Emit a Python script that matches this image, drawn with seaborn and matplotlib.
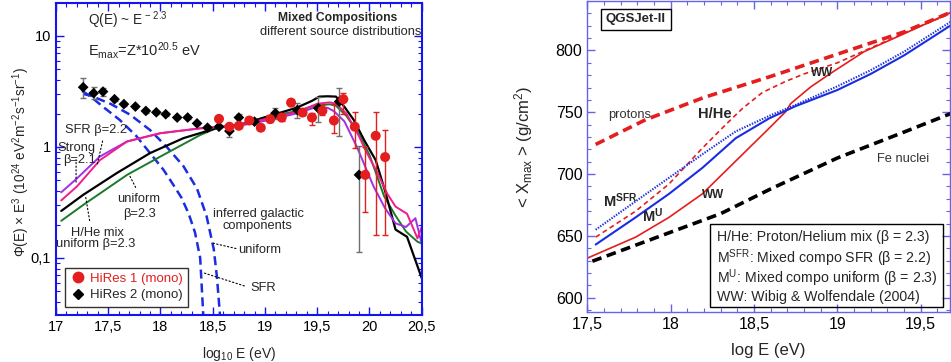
import numpy as np
import pandas as pd
import matplotlib
matplotlib.use("Agg")
import matplotlib.pyplot as plt
import seaborn as sns
from matplotlib.lines import Line2D
from matplotlib.patches import Rectangle
from matplotlib.ticker import FixedLocator, FuncFormatter, MultipleLocator

# ---------------------------------------------------------------------------
# Left panel: HiRes data
# ---------------------------------------------------------------------------
hires1_E = [18.56, 18.66, 18.75, 18.85, 18.96, 19.05, 19.16, 19.25, 19.36, 19.45,
            19.55, 19.66, 19.75, 19.86, 19.96, 20.06, 20.15]
hires1_flux = [1.79, 1.52, 1.55, 1.73, 1.49, 1.78, 1.84, 2.51, 2.04, 1.84,
               2.12, 1.73, 2.69, 1.52, 0.56, 1.26, 0.81]
hires1_hi = [1.88, 1.60, 1.63, 1.82, 1.57, 1.88, 1.95, 2.66, 2.16, 2.01,
             2.39, 2.45, 3.04, 2.05, 1.00, 2.07, 1.42]
hires1_lo = [1.70, 1.44, 1.47, 1.64, 1.41, 1.68, 1.73, 2.36, 1.92, 1.58,
             1.94, 1.34, 2.00, 0.97, 0.26, 0.16, 0.16]

hires2_E = [17.26, 17.36, 17.45, 17.56, 17.65, 17.76, 17.86, 17.96, 18.05, 18.16,
            18.26, 18.35, 18.45, 18.56, 18.66, 18.75, 18.90, 19.10, 19.31, 19.51,
            19.71, 19.90]
hires2_flux = [3.45, 3.05, 3.15, 2.69, 2.43, 2.31, 2.11, 2.05, 1.97, 1.84,
               1.84, 1.63, 1.49, 1.52, 1.39, 1.84, 1.69, 2.01, 2.15, 2.23,
               2.56, 0.56]
hires2_hi = [4.20, 3.46, 3.40, 2.78, 2.51, 2.39, 2.18, 2.12, 2.04, 1.90,
             1.90, 1.69, 1.54, 1.57, 1.52, 1.97, 1.75, 2.26, 2.47, 2.84,
             3.42, 1.02]
hires2_lo = [2.75, 2.70, 2.90, 2.60, 2.35, 2.23, 2.04, 1.98, 1.90, 1.78,
             1.78, 1.57, 1.44, 1.47, 1.24, 1.69, 1.63, 1.78, 1.81, 1.69,
             1.25, 0.114]

# model spectra
black_E = [17.05, 17.26, 17.58, 17.9, 18.22, 18.54, 18.8, 19.0, 19.3, 19.45, 19.52,
           19.6, 19.68, 19.76, 19.85, 19.95, 20.06, 20.15, 20.25, 20.36, 20.5]
black_flux = [0.265, 0.37, 0.58, 0.88, 1.2, 1.48, 1.62, 1.85, 2.25, 2.6, 2.84,
              2.86, 2.84, 2.3, 1.75, 1.15, 0.76, 0.4, 0.18, 0.155, 0.066]
green_E = [17.05, 17.26, 17.68, 18.0, 18.38, 18.54, 18.8, 19.0, 19.3, 19.5, 19.62,
           19.68, 19.78, 19.9, 20.0, 20.14, 20.25, 20.35, 20.46, 20.5]
green_flux = [0.216, 0.30, 0.56, 0.82, 1.28, 1.48, 1.62, 1.85, 2.1, 2.38, 2.42,
              2.35, 1.9, 1.3, 0.85, 0.36, 0.24, 0.173, 0.14, 0.135]
pink_E = [17.05, 17.2, 17.42, 17.68, 18.0, 18.38, 18.6, 18.8, 19.0, 19.3, 19.5,
          19.62, 19.68, 19.78, 19.9, 19.96, 20.07, 20.17, 20.25, 20.36, 20.46, 20.5]
pink_flux = [0.33, 0.44, 0.76, 1.12, 1.33, 1.47, 1.53, 1.6, 1.78, 2.05, 2.45,
             2.52, 2.45, 2.0, 1.25, 0.94, 0.6, 0.38, 0.29, 0.25, 0.15, 0.19]
purple_E = [17.05, 17.2, 17.42, 17.68, 18.0, 18.38, 18.6, 18.8, 19.0, 19.3, 19.5,
            19.6, 19.66, 19.76, 19.88, 20.04, 20.15, 20.25, 20.35, 20.44, 20.5]
purple_flux = [0.39, 0.52, 0.82, 1.12, 1.33, 1.47, 1.52, 1.58, 1.72, 2.0, 2.3,
               2.25, 2.1, 1.7, 1.0, 0.44, 0.28, 0.205, 0.19, 0.228, 0.135]

# inferred galactic components
gal_sfr_E = [17.25, 17.33, 17.45, 17.61, 17.77, 17.9, 18.03, 18.12, 18.2, 18.27,
             18.33, 18.38, 18.41]
gal_sfr_flux = [3.2, 2.85, 2.3, 1.75, 1.25, 0.88, 0.62, 0.46, 0.35, 0.25,
                0.17, 0.10, 0.03]
gal_uni_E = [17.26, 17.33, 17.52, 17.71, 17.9, 18.06, 18.22, 18.35, 18.44, 18.51,
             18.54, 18.57]
gal_uni_flux = [3.0, 2.9, 2.45, 1.95, 1.42, 1.0, 0.67, 0.42, 0.24, 0.12,
                0.068, 0.03]

# ---------------------------------------------------------------------------
# Right panel: <Xmax> predictions
# ---------------------------------------------------------------------------
protons_E = [17.55, 17.85, 18.2, 18.6, 19.0, 19.4, 19.7]
protons_X = [724, 744, 762, 779, 797, 815, 832]
fe_E = [17.53, 17.9, 18.3, 18.6, 19.0, 19.4, 19.7]
fe_X = [629.5, 648, 668, 688, 713, 734, 750]
hhe_E = [17.55, 17.79, 17.99, 18.19, 18.33, 18.43, 18.55, 18.69, 18.8, 19.0,
         19.2, 19.45, 19.7]
hhe_X = [649, 670, 692, 721, 740, 753, 766, 775, 781, 790, 802, 817, 831]
msfr_E = [17.55, 17.79, 17.99, 18.19, 18.39, 18.59, 18.75, 19.0, 19.2, 19.4, 19.7]
msfr_X = [655, 678, 697, 716, 734.5, 747, 756, 771, 784, 799, 825]
mu_E = [17.55, 17.79, 17.99, 18.19, 18.39, 18.59, 18.75, 19.0, 19.2, 19.4, 19.7]
mu_X = [643, 665, 684, 705, 729, 745, 755, 768, 781, 796, 822]
ww_E = [17.5, 17.79, 17.99, 18.19, 18.39, 18.59, 18.69, 18.72, 18.84, 18.96,
        19.16, 19.4, 19.7]
ww_X = [632, 649, 665, 684, 710.5, 737, 750.5, 757, 770.5, 781.5, 799, 813.5, 832]

legend_lines = [
    "H/He: Proton/Helium mix (\u03b2 = 2.3)",
    "M$^{SFR}$: Mixed compo SFR (\u03b2 = 2.2)",
    "M$^{U}$: Mixed compo uniform (\u03b2 = 2.3)",
    "WW: Wibig & Wolfendale (2004)",
]

# ---------------------------------------------------------------------------
sns.set_theme(style="ticks")
plt.rcParams["font.family"] = ["Liberation Sans", "DejaVu Sans"]
plt.rcParams["mathtext.fontset"] = "custom"
plt.rcParams["mathtext.rm"] = "Liberation Sans"
plt.rcParams["mathtext.it"] = "Liberation Sans:italic"
plt.rcParams["mathtext.bf"] = "Liberation Sans:bold"
plt.rcParams["mathtext.default"] = "regular"
plt.rcParams["lines.scale_dashes"] = False

LEFT_BLUE = "#1414f0"
RIGHT_BLUE = "#6464e6"
RED = "#e41e1e"
BLUE = "#1a2de0"


def draw(ax, x, y, color, lw, dash=None, z=2):
    df = pd.DataFrame({"x": x, "y": y})
    sns.lineplot(data=df, x="x", y="y", ax=ax, color=color, lw=lw,
                 estimator=None, sort=False, zorder=z)
    line = ax.lines[-1]
    if dash is not None:
        line.set_dashes(dash)
    return line


def comma(v, pos):
    s = f"{v:g}"
    return s.replace(".", ",")


def style_axes(ax, color, lw, size):
    for sp in ax.spines.values():
        sp.set_color(color)
        sp.set_linewidth(lw)
    ax.tick_params(which="both", direction="in", top=True, right=True,
                   color=color, labelcolor="black", labelsize=size)
    ax.tick_params(which="major", length=6, width=1)
    ax.tick_params(which="minor", length=3, width=0.8)


fig = plt.figure(figsize=(9.51, 3.62), dpi=100)
axL = fig.add_axes([0.0589, 0.1298, 0.3845, 0.8619])
axR = fig.add_axes([0.6176, 0.1373, 0.3814, 0.8613])

# ---------------- left panel ----------------
axL.set_yscale("log")
draw(axL, gal_sfr_E, gal_sfr_flux, BLUE, 1.8, dash=(6.5, 3.5))
draw(axL, gal_uni_E, gal_uni_flux, BLUE, 1.8, dash=(6.5, 3.5))
draw(axL, green_E, green_flux, "#1b7a2a", 1.4)
draw(axL, black_E, black_flux, "black", 1.6)
draw(axL, purple_E, purple_flux, "#a030e8", 1.4)
draw(axL, pink_E, pink_flux, "#f01e8c", 1.4)

h2 = np.array(hires2_flux)
axL.errorbar(hires2_E, hires2_flux,
             yerr=[h2 - np.array(hires2_lo), np.array(hires2_hi) - h2],
             fmt="none", ecolor="#707070", elinewidth=1, capsize=2, zorder=3)
h1 = np.array(hires1_flux)
axL.errorbar(hires1_E, hires1_flux,
             yerr=[h1 - np.array(hires1_lo), np.array(hires1_hi) - h1],
             fmt="none", ecolor=RED, elinewidth=1, capsize=2, zorder=3)
sns.scatterplot(x=hires2_E, y=hires2_flux, ax=axL, marker="D", s=30,
                color="black", edgecolor="none", zorder=4)
sns.scatterplot(x=hires1_E, y=hires1_flux, ax=axL, marker="o", s=52,
                color=RED, edgecolor="none", zorder=4)

axL.set_xlim(17, 20.5)
axL.set_ylim(0.0306, 19.8)
axL.xaxis.set_major_locator(MultipleLocator(0.5))
axL.xaxis.set_minor_locator(MultipleLocator(0.1))
axL.yaxis.set_major_locator(FixedLocator([0.1, 1, 10]))
axL.xaxis.set_major_formatter(FuncFormatter(comma))
axL.yaxis.set_major_formatter(FuncFormatter(comma))
style_axes(axL, LEFT_BLUE, 1.5, 10.5)
axL.set_xlabel("log$_{10}$ E (eV)", fontsize=10)
axL.set_ylabel("\u03a6(E) \u00d7 E$^{3}$ (10$^{24}$ eV$^{2}$m$^{-2}$s$^{-1}$sr$^{-1}$)",
               fontsize=9.8)
axL.xaxis.set_label_coords(0.5, -0.095)
axL.yaxis.set_label_coords(-0.066, 0.49)

tl = axL.transAxes
axL.text(0.0875, 0.929, "Q(E) ~ E$^{\\,-\\,2.3}$", transform=tl, fontsize=9.8,
         va="baseline")
axL.text(0.0875, 0.833, "E$_{max}$=Z*10$^{20.5}$ eV", transform=tl, fontsize=10.5,
         va="baseline")
axL.text(0.9325, 0.943, "Mixed Compositions", transform=tl, fontsize=8.7,
         fontweight="bold", ha="right", va="baseline")
axL.text(0.998, 0.898, "different source distributions", transform=tl, fontsize=9.3,
         ha="right", va="baseline")
small = dict(transform=tl, fontsize=9.3, va="baseline")
axL.text(0.0246, 0.584, "SFR \u03b2=2.2", **small)
axL.text(0.0027, 0.527, "Strong", **small)
axL.text(0.02, 0.486, "\u03b2=2.1", **small)
axL.text(0.227, 0.363, "uniform", ha="center", **small)
axL.text(0.227, 0.315, "\u03b2=2.3", ha="center", **small)
axL.text(0.112, 0.253, "H/He mix", ha="center", **small)
axL.text(0.109, 0.217, "uniform \u03b2=2.3", ha="center", **small)
axL.text(0.553, 0.315, "inferred galactic", ha="center", **small)
axL.text(0.552, 0.275, "components", ha="center", **small)
axL.text(0.4985, 0.200, "uniform", **small)
axL.text(0.5305, 0.077, "SFR", **small)

leader = dict(arrowstyle="-", linestyle=":", lw=0.8, color="black")
for p0, p1 in [((17.452, 1.198), (17.39, 0.665)),
               ((17.192, 0.813), (17.192, 0.455)),
               ((17.693, 0.58), (17.774, 0.41)),
               ((17.278, 0.383), (17.326, 0.205)),
               ((18.47, 0.138), (18.748, 0.12)),
               ((18.381, 0.075), (18.828, 0.055))]:
    axL.annotate("", xy=p0, xytext=p1, arrowprops=leader)

handles = [Line2D([], [], marker="o", ls="none", color=RED, markersize=7.5),
           Line2D([], [], marker="D", ls="none", color="black", markersize=5.5)]
leg = axL.legend(handles, ["HiRes 1 (mono)", "HiRes 2 (mono)"], loc="lower left",
                 bbox_to_anchor=(0.024, 0.027), borderaxespad=0, fontsize=9.5,
                 frameon=True, fancybox=False, handletextpad=0.3,
                 handlelength=1.2, labelspacing=0.3, borderpad=0.4)
leg.get_frame().set_edgecolor("black")
leg.get_frame().set_linewidth(1.0)
leg.get_texts()[0].set_color(RED)

# ---------------- right panel ----------------
draw(axR, fe_E, fe_X, "black", 2.6, dash=(7, 4))
draw(axR, protons_E, protons_X, RED, 2.6, dash=(7, 4))
draw(axR, hhe_E, hhe_X, RED, 1.2, dash=(3.5, 2.5))
draw(axR, ww_E, ww_X, RED, 1.2)
draw(axR, mu_E, mu_X, BLUE, 1.5)
draw(axR, msfr_E, msfr_X, BLUE, 1.5, dash=(1.0, 1.0))

axR.set_xlim(17.5, 19.676)
axR.set_ylim(588.2, 840.4)
axR.xaxis.set_major_locator(MultipleLocator(0.5))
axR.xaxis.set_minor_locator(MultipleLocator(0.1))
axR.yaxis.set_major_locator(MultipleLocator(50))
axR.yaxis.set_minor_locator(MultipleLocator(10))
axR.xaxis.set_major_formatter(FuncFormatter(comma))
style_axes(axR, RIGHT_BLUE, 1.0, 11.5)
axR.set_xlabel("log E (eV)", fontsize=12)
axR.set_ylabel("< X$_{max}$ > (g/cm$^{2}$)", fontsize=12)
axR.xaxis.set_label_coords(0.5, -0.098)
axR.yaxis.set_label_coords(-0.144, 0.53)

axR.text(17.622, 747.4, "protons", fontsize=9.3, color="#333333", va="center")
axR.text(18.162, 748.8, "H/He", fontsize=10.5, fontweight="bold", va="center")
axR.text(18.84, 782, "WW", fontsize=8.5, fontweight="bold", va="center")
axR.text(19.236, 711.9, "Fe nuclei", fontsize=9.3, color="#333333", va="center")
axR.text(17.596, 678.4, "M$^{SFR}$", fontsize=10.5, fontweight="bold", va="center")
axR.text(17.826, 666.4, "M$^{U}$", fontsize=10.5, fontweight="bold", va="center")
axR.text(18.186, 683, "WW", fontsize=8.5, fontweight="bold", va="center")

tr = axR.transAxes
axR.text(0.134, 0.94, "QGSJet-II", transform=tr, fontsize=9.5, fontweight="bold",
         ha="center", va="center",
         bbox=dict(boxstyle="square,pad=0.35", fc="white", ec="black", lw=1))

axR.add_patch(Rectangle((0.338, 0.018), 0.643, 0.264, transform=tr, fill=False,
                        ec="black", lw=1, zorder=5))
for y, s in zip([0.243, 0.172, 0.108, 0.050], legend_lines):
    axR.text(0.358, y, s, transform=tr, fontsize=10.2, va="center", zorder=6)

fig.savefig("out.png", dpi=100)
